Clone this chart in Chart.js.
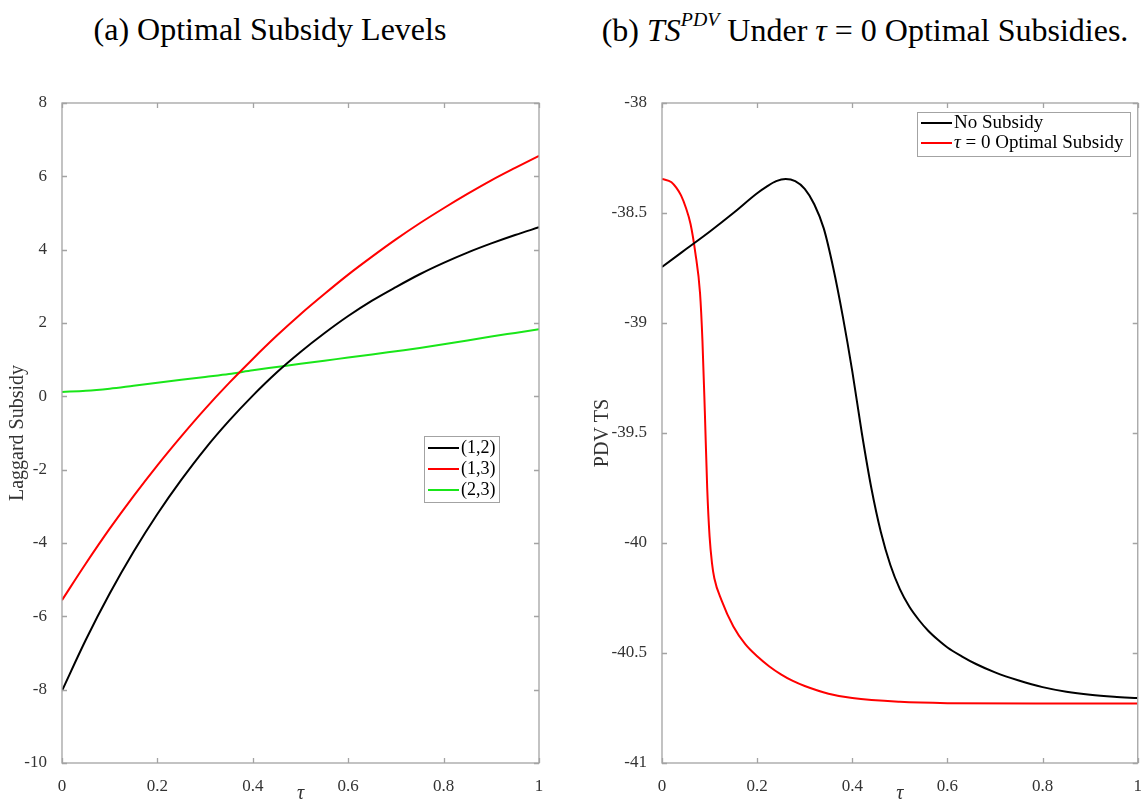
<!DOCTYPE html>
<html>
<head>
<meta charset="utf-8">
<script src="https://cdn.jsdelivr.net/npm/chart.js@4.4.1/dist/chart.umd.min.js"></script>
<style>
    body { margin: 0; background: #fff; }
    #wrap { position: relative; width: 1147px; height: 806px; overflow: hidden; }
    .panel { position: absolute; top: 0; }
    .title {
        position: absolute; top: 11px; white-space: nowrap;
        font-family: "Liberation Serif", serif; font-size: 32px; color: #000;
        transform: translateX(-50%);
    }
    .title sup { font-size: 0.62em; font-style: italic; position: relative; top: -0.15em; }
</style>
</head>
<body>
<div id="wrap">
    <div class="title" style="left:270px">(a) Optimal Subsidy Levels</div>
    <div class="title" style="left:865px">(b) <i>TS</i><sup>PDV</sup> Under <i>τ</i> = 0 Optimal Subsidies.</div>
    <canvas id="subsidyChart" class="panel" style="left:0" width="573" height="806"></canvas>
    <canvas id="pdvChart" class="panel" style="left:573px" width="574" height="806"></canvas>
</div>
<script>
// panel (a): optimal laggard subsidy by pair
var tau = [0, 0.05, 0.1, 0.15, 0.2, 0.25, 0.3, 0.35, 0.4, 0.45, 0.5, 0.55, 0.6, 0.65, 0.7, 0.75, 0.8, 0.85, 0.9, 0.95, 1];
var subsidy12 = [-8.03, -6.64, -5.38, -4.24, -3.21, -2.28, -1.43, -0.67, 0.02, 0.65, 1.21, 1.72, 2.19, 2.61, 2.98, 3.33, 3.64, 3.92, 4.17, 4.40, 4.61];
var subsidy13 = [-5.56, -4.56, -3.61, -2.72, -1.88, -1.09, -0.34, 0.36, 1.02, 1.65, 2.24, 2.79, 3.32, 3.81, 4.28, 4.72, 5.13, 5.52, 5.89, 6.23, 6.56];
var subsidy23 = [0.12, 0.15, 0.21, 0.29, 0.37, 0.45, 0.53, 0.61, 0.71, 0.80, 0.89, 0.97, 1.06, 1.14, 1.23, 1.32, 1.42, 1.52, 1.63, 1.73, 1.83];
var xTicks = [0, 0.2, 0.4, 0.6, 0.8, 1];
var yTicksA = [-10, -8, -6, -4, -2, 0, 2, 4, 6, 8];

// panel (b): PDV of total surplus
var tauNoSub = [0, 0.05, 0.1, 0.15, 0.2, 0.22, 0.24, 0.26, 0.28, 0.3, 0.32, 0.34, 0.36, 0.38, 0.4, 0.42, 0.44, 0.46, 0.48, 0.5, 0.52, 0.54, 0.56, 0.58, 0.6, 0.63, 0.66, 0.7, 0.75, 0.8, 0.85, 0.9, 0.95, 1];
var tsNoSub = [-38.745, -38.665, -38.585, -38.50, -38.41, -38.38, -38.355, -38.345, -38.355, -38.39, -38.46, -38.57, -38.75, -38.97, -39.22, -39.50, -39.75, -39.95, -40.10, -40.21, -40.29, -40.35, -40.40, -40.44, -40.475, -40.515, -40.55, -40.588, -40.625, -40.655, -40.676, -40.69, -40.699, -40.705];
var tauOpt = [0, 0.02, 0.03, 0.04, 0.05, 0.06, 0.07, 0.08, 0.085, 0.09, 0.095, 0.1, 0.105, 0.11, 0.125, 0.15, 0.175, 0.2, 0.225, 0.25, 0.275, 0.3, 0.35, 0.4, 0.5, 0.6, 0.8, 1];
var tsOpt = [-38.345, -38.36, -38.385, -38.42, -38.475, -38.55, -38.68, -38.866, -39.08, -39.40, -39.75, -39.97, -40.09, -40.16, -40.26, -40.38, -40.46, -40.515, -40.56, -40.597, -40.627, -40.65, -40.685, -40.705, -40.722, -40.728, -40.73, -40.73];
var yTicksB = [-41, -40.5, -40, -39.5, -39, -38.5, -38];

var SERIF = '"Liberation Serif", "Times New Roman", serif';
var AXIS_GREY = '#a3a3a3';

function points(xs, ys) {
    return xs.map(function (x, i) { return { x: x, y: ys[i] }; });
}

function line(label, xs, ys, color) {
    return {
        label: label,
        data: points(xs, ys),
        borderColor: color,
        backgroundColor: color,
        borderWidth: 2,
        pointRadius: 0,
        cubicInterpolationMode: "monotone",
        fill: false,
    };
}

// matlab style box with inward ticks on all four sides
var boxTicks = {
    id: "boxTicks",
    afterDatasetsDraw: function (chart) {
        var ctx = chart.ctx, a = chart.chartArea;
        var sx = chart.scales.x, sy = chart.scales.y;
        ctx.save();
        ctx.strokeStyle = AXIS_GREY;
        ctx.lineWidth = 1.3;
        ctx.strokeRect(a.left, a.top, a.right - a.left, a.bottom - a.top);
        ctx.beginPath();
        sx.ticks.forEach(function (t) {
            var px = Math.round(sx.getPixelForValue(t.value)) + 0.5;
            ctx.moveTo(px, a.bottom); ctx.lineTo(px, a.bottom - 5);
            ctx.moveTo(px, a.top); ctx.lineTo(px, a.top + 5);
        });
        sy.ticks.forEach(function (t) {
            var py = Math.round(sy.getPixelForValue(t.value)) + 0.5;
            ctx.moveTo(a.left, py); ctx.lineTo(a.left + 5, py);
            ctx.moveTo(a.right, py); ctx.lineTo(a.right - 5, py);
        });
        ctx.stroke();
        ctx.restore();
    },
};

var insetLegend = {
    id: "insetLegend",
    afterDraw: function (chart, args, opts) {
        var ctx = chart.ctx, a = chart.chartArea;
        var bx = a.left + opts.x, by = a.top + opts.y;
        ctx.save();
        ctx.fillStyle = "#fff";
        ctx.fillRect(bx, by, opts.w, opts.h);
        ctx.strokeStyle = AXIS_GREY;
        ctx.lineWidth = 1;
        ctx.strokeRect(bx + 0.5, by + 0.5, opts.w, opts.h);
        ctx.textBaseline = "middle";
        chart.data.datasets.forEach(function (ds, i) {
            var yy = by + opts.first + i * opts.gap;
            ctx.strokeStyle = ds.borderColor;
            ctx.lineWidth = 2;
            ctx.beginPath();
            ctx.moveTo(bx + 4, yy);
            ctx.lineTo(bx + 35, yy);
            ctx.stroke();
            var tx = bx + 37, text = ds.label;
            ctx.fillStyle = "#000";
            if (text.charAt(0) === "τ") {
                ctx.font = "italic " + opts.size + "px " + SERIF;
                ctx.fillText("τ", tx, yy);
                tx += ctx.measureText("τ").width;
                text = text.slice(1);
            }
            ctx.font = opts.size + "px " + SERIF;
            ctx.fillText(text, tx, yy);
        });
        ctx.restore();
    },
};

function makeOptions(cfg) {
    return {
        responsive: false,
        animation: false,
        devicePixelRatio: 1,
        layout: { padding: { top: 103, right: cfg.padRight, left: 0, bottom: 0 } },
        plugins: {
            legend: { display: false },
            tooltip: { enabled: false },
            insetLegend: cfg.legend,
        },
        scales: {
            x: {
                type: "linear",
                min: 0,
                max: 1,
                afterBuildTicks: function (s) { s.ticks = xTicks.map(function (v) { return { value: v }; }); },
                afterFit: function (s) { s.height = 43; },
                grid: { display: false },
                border: { display: false },
                ticks: {
                    autoSkip: false, maxRotation: 0, padding: 5, color: "#333",
                    font: { family: SERIF, size: 17 },
                    callback: function (v) { return String(v); },
                },
                title: {
                    display: true, text: "τ", color: "#333",
                    font: { family: SERIF, size: 20, style: "italic" },
                    padding: { top: 0, bottom: 0 },
                },
            },
            y: {
                type: "linear",
                min: cfg.yTicks[0],
                max: cfg.yTicks[cfg.yTicks.length - 1],
                afterBuildTicks: function (s) { s.ticks = cfg.yTicks.map(function (v) { return { value: v }; }); },
                afterFit: function (s) { s.width = cfg.yWidth; },
                grid: { display: false },
                border: { display: false },
                ticks: {
                    autoSkip: false, padding: 7, color: "#333",
                    font: { family: SERIF, size: 17 },
                    callback: function (v) { return String(v); },
                },
                title: {
                    display: true, text: cfg.yTitle, color: "#333",
                    font: { family: SERIF, size: 20 },
                    padding: { top: cfg.yTitlePad, bottom: 0 },
                },
            },
        },
    };
}

new Chart(document.getElementById("subsidyChart"), {
    type: "line",
    data: {
        datasets: [
            line("(1,2)", tau, subsidy12, "#000000"),
            line("(1,3)", tau, subsidy13, "#ff0000"),
            line("(2,3)", tau, subsidy23, "#19e619"),
        ],
    },
    options: makeOptions({
        padRight: 34, yWidth: 62, yTicks: yTicksA, yTitle: "Laggard Subsidy", yTitlePad: 6,
        legend: { x: 362, y: 333, w: 75, h: 66, first: 12, gap: 21, size: 18 },
    }),
    plugins: [boxTicks, insetLegend],
});

new Chart(document.getElementById("pdvChart"), {
    type: "line",
    data: {
        datasets: [
            line("No Subsidy", tauNoSub, tsNoSub, "#000000"),
            line("τ = 0 Optimal Subsidy", tauOpt, tsOpt, "#ff0000"),
        ],
    },
    options: makeOptions({
        padRight: 9, yWidth: 89, yTicks: yTicksB, yTitle: "PDV TS", yTitlePad: 18,
        legend: { x: 255, y: 9, w: 213, h: 44, first: 11, gap: 20, size: 19 },
    }),
    plugins: [boxTicks, insetLegend],
});
</script>
</body>
</html>
